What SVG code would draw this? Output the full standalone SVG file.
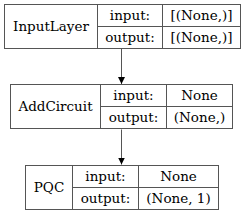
<svg xmlns="http://www.w3.org/2000/svg" width="244" height="215" viewBox="0 0 244 215">
<style>
.b{fill:#fff;stroke:#555;stroke-width:1}
.l{stroke:#555;stroke-width:1;fill:none}
text{font-family:"DejaVu Serif",serif;font-size:13.5px;fill:#000;text-anchor:middle}
</style>
<defs>
<marker id="ah" markerWidth="8" markerHeight="8" refX="7" refY="4" orient="auto" markerUnits="userSpaceOnUse">
<path d="M0,0.5 L7,4 L0,7.5 Z" fill="#000"/>
</marker>
</defs>
<rect width="244" height="215" fill="#fff"/>
<g id="connectors">
<line class="l" x1="121.5" y1="49" x2="121.5" y2="84" marker-end="url(#ah)"/>
<line class="l" x1="121.5" y1="129.5" x2="121.5" y2="164.5" marker-end="url(#ah)"/>
</g>
<g id="InputLayer">
<rect class="b" x="4.5" y="4.5" width="236" height="44"/>
<line class="l" x1="97.5" y1="4.5" x2="97.5" y2="48.5"/>
<line class="l" x1="162.5" y1="4.5" x2="162.5" y2="48.5"/>
<line class="l" x1="97.5" y1="26.5" x2="240.5" y2="26.5"/>
<text x="51" y="31">InputLayer</text>
<text x="130" y="20">input:</text>
<text x="130" y="42">output:</text>
<text x="201.5" y="20">[(None,)]</text>
<text x="201.5" y="42">[(None,)]</text>
</g>
<g id="AddCircuit">
<rect class="b" x="10.5" y="84.5" width="222" height="44"/>
<line class="l" x1="100.5" y1="84.5" x2="100.5" y2="128.5"/>
<line class="l" x1="166.5" y1="84.5" x2="166.5" y2="128.5"/>
<line class="l" x1="100.5" y1="106.5" x2="232.5" y2="106.5"/>
<text x="55.5" y="111">AddCircuit</text>
<text x="133.5" y="100">input:</text>
<text x="133.5" y="122">output:</text>
<text x="199.5" y="100">None</text>
<text x="199.5" y="122">(None,)</text>
</g>
<g id="PQC">
<rect class="b" x="25.5" y="165.5" width="193" height="44"/>
<line class="l" x1="72.5" y1="165.5" x2="72.5" y2="209.5"/>
<line class="l" x1="138.5" y1="165.5" x2="138.5" y2="209.5"/>
<line class="l" x1="72.5" y1="187.5" x2="218.5" y2="187.5"/>
<text x="49" y="192">PQC</text>
<text x="105.5" y="181">input:</text>
<text x="105.5" y="203">output:</text>
<text x="178.5" y="181">None</text>
<text x="178.5" y="203">(None, 1)</text>
</g>
</svg>
